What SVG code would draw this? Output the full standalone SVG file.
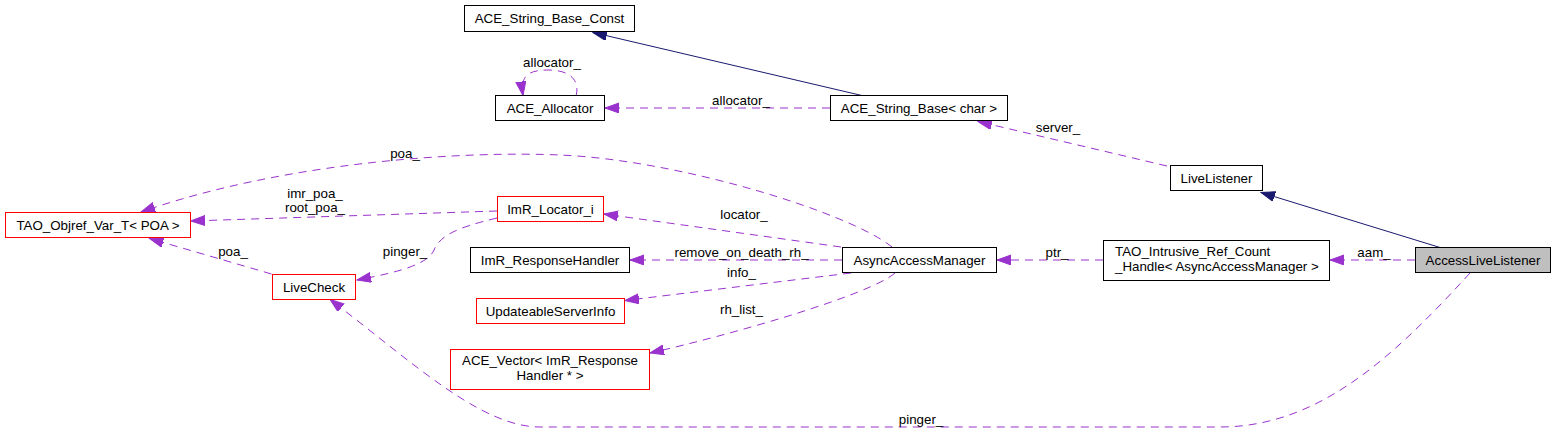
<svg xmlns="http://www.w3.org/2000/svg" width="1556" height="433" viewBox="0 0 1556 433">
<style>
text{font-family:"Liberation Sans",Arial,Helvetica,sans-serif;font-size:13.33px;fill:#000}
.n rect{fill:#fff;stroke:#000;stroke-width:1}
.n.red rect{stroke:#ff0000}
.n.root rect{fill:#bfbfbf}
.n text{text-anchor:middle}
.n text.l{text-anchor:start}
.e{fill:none;stroke:#9a32cd;stroke-width:1;stroke-dasharray:8,6}
.i{fill:none;stroke:#191970;stroke-width:1}
.lbl{text-anchor:middle}
</style>
<defs>
<marker id="ap" markerUnits="userSpaceOnUse" markerWidth="15" markerHeight="11" refX="14" refY="5" orient="auto">
<path d="M0,0 L14,5 L0,10 z" fill="#9a32cd" stroke="#9a32cd" stroke-width="1"/>
</marker>
<marker id="an" markerUnits="userSpaceOnUse" markerWidth="15" markerHeight="11" refX="14" refY="5" orient="auto">
<path d="M0,0 L14,5 L0,10 z" fill="#191970" stroke="#191970" stroke-width="1"/>
</marker>
</defs>
<g id="edges">
<path class="i" d="M864,96 L593,32.5" marker-end="url(#an)"/>
<path class="e" d="M830,108 L605,108" marker-end="url(#ap)"/>
<path class="e" d="M576,96 C580,82 572,70 548,70 C528,70 520,76 523,95.5" marker-end="url(#ap)"/>
<path class="e" d="M1167,166 L978,121.5" marker-end="url(#ap)"/>
<path class="i" d="M1440,247.5 L1261,192.5" marker-end="url(#an)"/>
<path class="e" d="M1415,260 L1330,260" marker-end="url(#ap)"/>
<path class="e" d="M1103,260 L997,260" marker-end="url(#ap)"/>
<path class="e" d="M842,260 L630,260" marker-end="url(#ap)"/>
<path class="e" d="M851,273 L625,300.5" marker-end="url(#ap)"/>
<path class="e" d="M895,273 C870,295 730,335 650,353" marker-end="url(#ap)"/>
<path class="e" d="M841,247 L604,214" marker-end="url(#ap)"/>
<path class="e" d="M892,247 C850,213 680,160 560,155 C470,151 290,160 141,212" marker-end="url(#ap)"/>
<path class="e" d="M497,211 L191,221" marker-end="url(#ap)"/>
<path class="e" d="M497,218 C455,228 440,236 434,250 C428,264 400,272 357,280" marker-end="url(#ap)"/>
<path class="e" d="M271.5,274 L149.5,238.5" marker-end="url(#ap)"/>
<path class="e" d="M1470,273 C1395,355 1320,427 1220,427 L540,427 C480,427 410,360 330,299.5" marker-end="url(#ap)"/>
<text class="lbl" x="552" y="67">allocator_</text>
<text class="lbl" x="741" y="105">allocator_</text>
<text class="lbl" x="1058" y="132">server_</text>
<text class="lbl" x="405" y="158">poa_</text>
<text class="lbl" x="315" y="197.5">imr_poa_</text>
<text class="lbl" x="315" y="212">root_poa_</text>
<text class="lbl" x="744" y="219">locator_</text>
<text class="lbl" x="405" y="256">pinger_</text>
<text class="lbl" x="233" y="256">poa_</text>
<text class="lbl" x="741.5" y="256.5">remove_on_death_rh_</text>
<text class="lbl" x="741.5" y="277">info_</text>
<text class="lbl" x="741.5" y="314">rh_list_</text>
<text class="lbl" x="1057" y="256.5">ptr_</text>
<text class="lbl" x="1374" y="256.5">aam_</text>
<text class="lbl" x="921" y="424">pinger_</text>
</g>
<g id="ACE_String_Base_Const" class="n"><rect x="464.5" y="5.5" width="170" height="26"/><text x="549.5" y="23">ACE_String_Base_Const</text></g>
<g id="ACE_Allocator" class="n"><rect x="495.5" y="95.5" width="109" height="25"/><text x="550" y="112.7">ACE_Allocator</text></g>
<g id="ACE_String_Base_char" class="n"><rect x="830.5" y="95.5" width="177" height="25"/><text x="919" y="112.7">ACE_String_Base&lt; char &gt;</text></g>
<g id="LiveListener" class="n"><rect x="1170.5" y="165.5" width="92" height="25"/><text x="1216.5" y="182.7">LiveListener</text></g>
<g id="TAO_Objref_Var_T_POA" class="n red"><rect x="5.5" y="212.5" width="185" height="25"/><text x="98" y="229.7">TAO_Objref_Var_T&lt; POA &gt;</text></g>
<g id="ImR_Locator_i" class="n red"><rect x="497.5" y="196.5" width="106" height="25"/><text x="550.5" y="213.7">ImR_Locator_i</text></g>
<g id="ImR_ResponseHandler" class="n"><rect x="470.5" y="247.5" width="159" height="25"/><text x="550" y="264.7">ImR_ResponseHandler</text></g>
<g id="LiveCheck" class="n red"><rect x="272.5" y="274.5" width="83" height="25"/><text x="314" y="291.7">LiveCheck</text></g>
<g id="UpdateableServerInfo" class="n red"><rect x="476.5" y="298.5" width="148" height="25"/><text x="550.5" y="315.7">UpdateableServerInfo</text></g>
<g id="ACE_Vector" class="n red"><rect x="450.5" y="349.5" width="199" height="40"/><text x="550" y="364.5">ACE_Vector&lt; ImR_Response</text><text x="550" y="379.5">Handler * &gt;</text></g>
<g id="AsyncAccessManager" class="n"><rect x="842.5" y="247.5" width="154" height="25"/><text x="919.5" y="264.7">AsyncAccessManager</text></g>
<g id="TAO_Intrusive_Ref_Count_Handle" class="n"><rect x="1103.5" y="240.5" width="226" height="40"/><text class="l" x="1115" y="256">TAO_Intrusive_Ref_Count</text><text class="l" x="1115" y="271">_Handle&lt; AsyncAccessManager &gt;</text></g>
<g id="AccessLiveListener" class="n root"><rect x="1415.5" y="247.5" width="135" height="25"/><text x="1483" y="264.7">AccessLiveListener</text></g>
</svg>
